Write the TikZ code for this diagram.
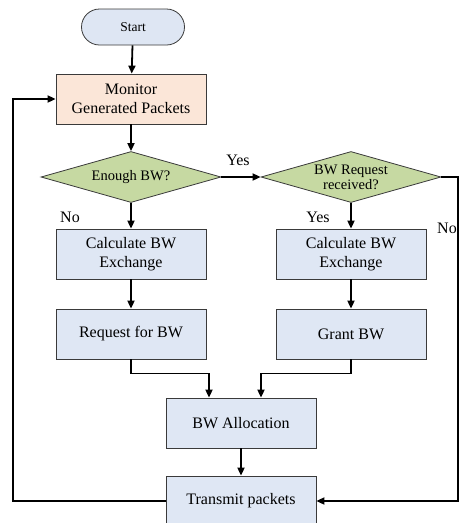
\documentclass[tikz,border=0pt]{standalone}
\usepackage{fontspec}
\setmainfont{Liberation Serif}
\usepackage{xcolor}
\usepackage{tikz}
\usetikzlibrary{positioning,arrows.meta,shapes.geometric}

\definecolor{startblue}{HTML}{DEE6F3}
\definecolor{boxblue}{HTML}{DFE7F4}
\definecolor{boxpeach}{HTML}{FBE6D8}
\definecolor{diagreen}{HTML}{C6D9A2}
\definecolor{edgegrey}{HTML}{3A3A3A}

\tikzset{
  terminal/.style={draw=edgegrey,line width=0.8pt,fill=startblue,rounded corners=18pt,
    minimum width=103pt,minimum height=36pt,font=\fontsize{13.5}{15}\selectfont},
  process/.style={draw=edgegrey,line width=0.8pt,fill=boxblue,minimum width=150pt,
    minimum height=50pt,align=center,font=\fontsize{16}{19}\selectfont},
  decision/.style={diamond,aspect=3.53,draw=edgegrey,line width=0.8pt,fill=diagreen,inner sep=0pt,
    minimum width=180pt,minimum height=51pt,align=center,font=\fontsize{14.5}{15}\selectfont},
  flow/.style={line width=1.8pt,-{Triangle[length=8pt,width=7pt]}},
  answer/.style={font=\fontsize{16}{18}\selectfont}
}

\begin{document}
\begin{tikzpicture}[x=1pt,y=1pt,on grid]
    \useasboundingbox (0,0) rectangle (468,-523);
    \node[terminal] (start) at (133,-27) {Start};
    \node[process,fill=boxpeach,below=72pt of start,xshift=-2pt] (monitor) {Monitor\\Generated Packets};
    \node[decision,below=78pt of monitor] (enough) {Enough BW?};
    \node[decision,right=220pt of enough] (received) {BW Request\\received?};
    \node[process,below=77pt of enough] (calcl) {Calculate BW\\Exchange};
    \node[process,below=77pt of received] (calcr) {Calculate BW\\Exchange};
    \node[process,below=80pt of calcl] (request) {Request for BW};
    \node[process,below=80pt of calcr] (grant) {Grant BW};
    \node[process,below right=89pt and 110pt of request] (alloc) {BW Allocation};
    \node[process,below=77pt of alloc,yshift=-1pt] (transmit) {Transmit packets};
    % answers
    \node[answer] (yes1) at (238,-160) {Yes};
    \node[answer] (no1) at (70,-217) {No};
    \node[answer] (yes2) at (318,-217) {Yes};
    \node[answer] (no2) at (447,-228) {No};
    \coordinate (lft) at (13,0);
    \coordinate (rgt) at (458,0);
    \draw[flow] (start) -- (monitor);
    \draw[flow] (monitor) -- (enough);
    \draw[flow] (enough) -- (received);
    \draw[flow] (enough) -- (calcl);
    \draw[flow] (received) -- (calcr);
    \draw[flow] (calcl) -- (request);
    \draw[flow] (calcr) -- (grant);
    \draw[flow] (request.south) -- ++(0,-14) -| ([xshift=-32pt]alloc.north);
    \draw[flow] (grant.south) -- ++(0,-14) -| ([xshift=20pt]alloc.north);
    \draw[flow] (alloc) -- (transmit);
    \draw[flow] (transmit.west) -- (transmit.west -| lft) |- (monitor.west);
    \draw[flow] (received.east) -- (received.east -| rgt) |- (transmit.east);
\end{tikzpicture}
\end{document}
